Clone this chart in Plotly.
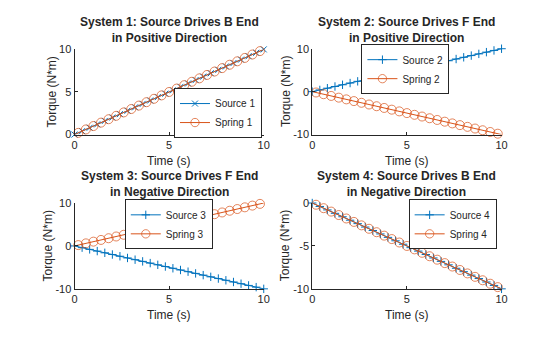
import plotly.graph_objects as go

# ---- data -------------------------------------------------------------
time_source = [0.0, 0.4, 0.8, 1.2, 1.6, 2.0, 2.4, 2.8, 3.2, 3.6, 4.0, 4.4, 4.8,
               5.2, 5.6, 6.0, 6.4, 6.8, 7.2, 7.6, 8.0, 8.4, 8.8, 9.2, 9.6, 10.0]
time_spring = [0.0, 0.2, 0.6, 1.0, 1.4, 1.8, 2.2, 2.6, 3.0, 3.4, 3.8, 4.2, 4.6, 5.0,
               5.4, 5.8, 6.2, 6.6, 7.0, 7.4, 7.8, 8.2, 8.6, 9.0, 9.4, 9.8, 10.0]

source_1 = [0.0, 0.4, 0.8, 1.2, 1.6, 2.0, 2.4, 2.8, 3.2, 3.6, 4.0, 4.4, 4.8,
            5.2, 5.6, 6.0, 6.4, 6.8, 7.2, 7.6, 8.0, 8.4, 8.8, 9.2, 9.6, 10.0]
spring_1 = [0.0, 0.2, 0.6, 1.0, 1.4, 1.8, 2.2, 2.6, 3.0, 3.4, 3.8, 4.2, 4.6, 5.0,
            5.4, 5.8, 6.2, 6.6, 7.0, 7.4, 7.8, 8.2, 8.6, 9.0, 9.4, 9.8, 10.0]

source_2 = [0.0, 0.4, 0.8, 1.2, 1.6, 2.0, 2.4, 2.8, 3.2, 3.6, 4.0, 4.4, 4.8,
            5.2, 5.6, 6.0, 6.4, 6.8, 7.2, 7.6, 8.0, 8.4, 8.8, 9.2, 9.6, 10.0]
spring_2 = [0.0, -0.2, -0.6, -1.0, -1.4, -1.8, -2.2, -2.6, -3.0, -3.4, -3.8, -4.2, -4.6, -5.0,
            -5.4, -5.8, -6.2, -6.6, -7.0, -7.4, -7.8, -8.2, -8.6, -9.0, -9.4, -9.8, -10.0]

source_3 = [0.0, -0.4, -0.8, -1.2, -1.6, -2.0, -2.4, -2.8, -3.2, -3.6, -4.0, -4.4, -4.8,
            -5.2, -5.6, -6.0, -6.4, -6.8, -7.2, -7.6, -8.0, -8.4, -8.8, -9.2, -9.6, -10.0]
spring_3 = [0.0, 0.2, 0.6, 1.0, 1.4, 1.8, 2.2, 2.6, 3.0, 3.4, 3.8, 4.2, 4.6, 5.0,
            5.4, 5.8, 6.2, 6.6, 7.0, 7.4, 7.8, 8.2, 8.6, 9.0, 9.4, 9.8, 10.0]

source_4 = [0.0, -0.4, -0.8, -1.2, -1.6, -2.0, -2.4, -2.8, -3.2, -3.6, -4.0, -4.4, -4.8,
            -5.2, -5.6, -6.0, -6.4, -6.8, -7.2, -7.6, -8.0, -8.4, -8.8, -9.2, -9.6, -10.0]
spring_4 = [0.0, -0.2, -0.6, -1.0, -1.4, -1.8, -2.2, -2.6, -3.0, -3.4, -3.8, -4.2, -4.6, -5.0,
            -5.4, -5.8, -6.2, -6.6, -7.0, -7.4, -7.8, -8.2, -8.6, -9.0, -9.4, -9.8, -10.0]

titles = [
    "System 1: Source Drives B End<br>in Positive Direction",
    "System 2: Source Drives F End<br>in Positive Direction",
    "System 3: Source Drives F End<br>in Negative Direction",
    "System 4: Source Drives B End<br>in Negative Direction",
]
source_names = ["Source 1", "Source 2", "Source 3", "Source 4"]
spring_names = ["Spring 1", "Spring 2", "Spring 3", "Spring 4"]
x_ticks = [0, 5, 10]
y_ticks = [[0, 5, 10], [-10, 0, 10], [-10, 0, 10], [-10, -5, 0]]
y_ranges = [[0, 10], [-10, 10], [-10, 10], [-10, 0]]
x_label = "Time (s)"
y_label = "Torque (N*m)"

sources = [source_1, source_2, source_3, source_4]
springs = [spring_1, spring_2, spring_3, spring_4]

# ---- layout geometry (pixels) ----------------------------------------
W, H = 560, 337
BLUE, ORANGE, INK = "#0072BD", "#D95319", "#262626"
FONT = "Liberation Sans, Arial, Helvetica, sans-serif"

x_px = [(72.7, 265.0), (314.3, 506.7), (72.7, 265.0), (314.3, 506.7)]
y_px = [(45.0, 133.3), (44.3, 133.3), (204.3, 293.3), (204.3, 293.3)]
ylabel_shift = [-23, -27, -27, -27]
source_symbols = ["x-thin-open", "cross-thin-open", "cross-thin-open", "cross-thin-open"]
source_sizes = [6, 6, 6, 6]
legend_boxes = [  # (x center, y center) in pixels
    (218.5, 111.0), (409.0, 65.5), (168.5, 226.4), (457.0, 226.4)
]

fig = go.Figure()
layout = dict(
    width=W, height=H,
    margin=dict(l=0, r=0, t=0, b=0),
    paper_bgcolor="white", plot_bgcolor="white",
    font=dict(family=FONT, color=INK),
    annotations=[],
)

n_spring = len(time_spring)
spring_sizes = [0 if i in (0, n_spring - 1) else 9 for i in range(n_spring)]

for k in range(4):
    ax = "" if k == 0 else str(k + 1)
    xa, ya = "x" + ax, "y" + ax
    lg = "legend" if k == 0 else "legend" + str(k + 1)

    fig.add_trace(go.Scatter(
        x=time_source, y=sources[k], name=source_names[k],
        mode="lines+markers", xaxis=xa, yaxis=ya, legend=lg,
        line=dict(color=BLUE, width=1),
        marker=dict(symbol=source_symbols[k], size=source_sizes[k],
                    line=dict(color=BLUE, width=1), color=BLUE),
        cliponaxis=False,
    ))
    fig.add_trace(go.Scatter(
        x=time_spring, y=springs[k], name=spring_names[k],
        mode="lines+markers", xaxis=xa, yaxis=ya, legend=lg,
        line=dict(color=ORANGE, width=1),
        marker=dict(symbol="circle-open", size=spring_sizes,
                    line=dict(color=ORANGE, width=1), color=ORANGE),
        cliponaxis=False,
    ))

    x0, x1 = x_px[k]
    ytop, ybot = y_px[k]
    xd = [x0 / W, x1 / W]
    yd = [1 - ybot / H, 1 - ytop / H]

    axis_common = dict(
        showline=True, linecolor=INK, linewidth=1, mirror=False,
        showgrid=False, zeroline=False,
        ticks="inside", ticklen=3, tickcolor=INK, tickwidth=1,
        tickfont=dict(size=11, color=INK, family=FONT),
    )
    layout["xaxis" + ax] = dict(
        domain=xd, range=[0, 10], tickvals=x_ticks,
        ticktext=[str(v) for v in x_ticks],
        anchor=ya, **axis_common,
    )
    layout["yaxis" + ax] = dict(
        domain=yd, range=y_ranges[k], tickvals=y_ticks[k],
        ticktext=[str(v) for v in y_ticks[k]],
        anchor=xa, **axis_common,
    )

    xc = (xd[0] + xd[1]) / 2
    yc = (yd[0] + yd[1]) / 2
    # subplot title
    layout["annotations"].append(dict(
        text="<b>" + titles[k].replace("<br>", "</b><br><b>") + "</b>",
        xref="paper", yref="paper", x=xc, y=yd[1], yshift=2,
        xanchor="center", yanchor="bottom", showarrow=False,
        font=dict(size=12, color=INK, family=FONT),
    ))
    # x label
    layout["annotations"].append(dict(
        text=x_label, xref="paper", yref="paper", x=xc, y=yd[0], yshift=-26,
        xanchor="center", yanchor="middle", showarrow=False,
        font=dict(size=12, color=INK, family=FONT),
    ))
    # y label
    layout["annotations"].append(dict(
        text=y_label, xref="paper", yref="paper", x=xd[0], y=yc,
        xshift=ylabel_shift[k], textangle=-90,
        xanchor="center", yanchor="middle", showarrow=False,
        font=dict(size=12, color=INK, family=FONT),
    ))

    lx, ly = legend_boxes[k]
    layout[lg] = dict(
        x=lx / W, y=1 - ly / H, xanchor="center", yanchor="middle",
        bgcolor="white", bordercolor=INK, borderwidth=1,
        font=dict(size=10, color=INK, family=FONT),
        tracegroupgap=0,
    )

fig.update_layout(**layout)
fig.write_html("out.html")
